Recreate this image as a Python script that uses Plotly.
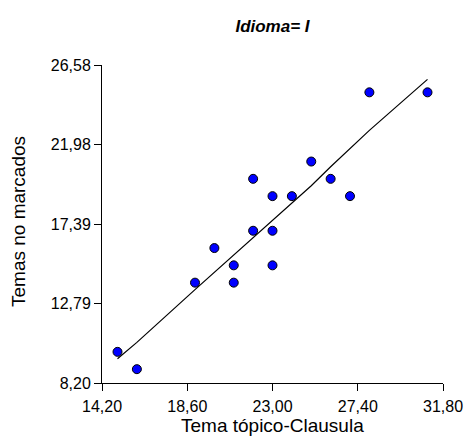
import plotly.graph_objects as go

# Observed pairs
tema_topico = [15.0, 16.0, 19.0, 20.0, 21.0, 21.0, 22.0, 22.0, 23.0, 23.0, 23.0, 24.0, 25.0, 26.0, 27.0, 28.0, 31.0]
temas_no_marcados = [10.0, 9.0, 14.0, 16.0, 15.0, 14.0, 20.0, 17.0, 19.0, 17.0, 15.0, 19.0, 21.0, 20.0, 19.0, 25.0, 25.0]

# Smoothed fit evaluated at the distinct x values
fit_x = [15.0, 16.0, 19.0, 20.0, 21.0, 22.0, 23.0, 24.0, 25.0, 26.0, 27.0, 28.0, 31.0]
fit_y = [9.6, 10.55, 13.6, 14.6, 15.6, 16.6, 17.65, 18.65, 19.6, 20.7, 21.75, 22.8, 25.75]

x_ticks = [14.20, 18.60, 23.00, 27.40, 31.80]
y_ticks = [8.20, 12.79, 17.39, 21.98, 26.58]


def fmt(v):
    return f"{v:.2f}".replace(".", ",")


FONT = "Liberation Sans, Arial, sans-serif"
W, H = 465, 437
L, R, T, B = 102, 22, 65, 54
plot_w, plot_h = W - L - R, H - T - B

fig = go.Figure()
fig.add_trace(go.Scatter(
    x=fit_x, y=fit_y, mode="lines",
    line=dict(color="black", width=1.2),
    hoverinfo="skip", showlegend=False,
))
fig.add_trace(go.Scatter(
    x=tema_topico, y=temas_no_marcados, mode="markers",
    marker=dict(color="#0000FF", size=9, line=dict(color="black", width=1)),
    showlegend=False,
))

axis_common = dict(
    showgrid=False, zeroline=False, showline=True, linecolor="black", linewidth=1,
    ticks="outside", ticklen=7, tickcolor="black", tickwidth=1,
    tickfont=dict(family=FONT, size=16, color="black"),
    automargin=False,
)

title_font = dict(family=FONT, size=19, color="black")

fig.update_layout(
    width=W, height=H,
    margin=dict(l=L, r=R, t=T, b=B),
    paper_bgcolor="white", plot_bgcolor="white",
    title=dict(
        text="<b><i>Idioma= I</i></b>",
        x=(L + (W - R)) / 2 / W, xanchor="center",
        y=1 - 26 / H, yanchor="middle",
        font=dict(family=FONT, size=17, color="black"),
    ),
    xaxis=dict(
        range=[x_ticks[0], x_ticks[-1]],
        tickvals=x_ticks, ticktext=[fmt(v) for v in x_ticks],
        ticklabelstandoff=2,
        **axis_common,
    ),
    yaxis=dict(
        range=[y_ticks[0], y_ticks[-1]],
        tickvals=y_ticks, ticktext=[fmt(v) for v in y_ticks],
        **axis_common,
    ),
    annotations=[
        dict(
            text="Tema tópico-Clausula", xref="paper", yref="paper",
            x=0.5, y=-(425 - (H - B)) / plot_h,
            xanchor="center", yanchor="middle", showarrow=False, font=title_font,
        ),
        dict(
            text="Temas no marcados", xref="paper", yref="paper",
            x=(18 - L) / plot_w, y=((H - B) - 222) / plot_h, textangle=-90,
            xanchor="center", yanchor="middle", showarrow=False, font=title_font,
        ),
    ],
)

fig.write_html("out.html")
